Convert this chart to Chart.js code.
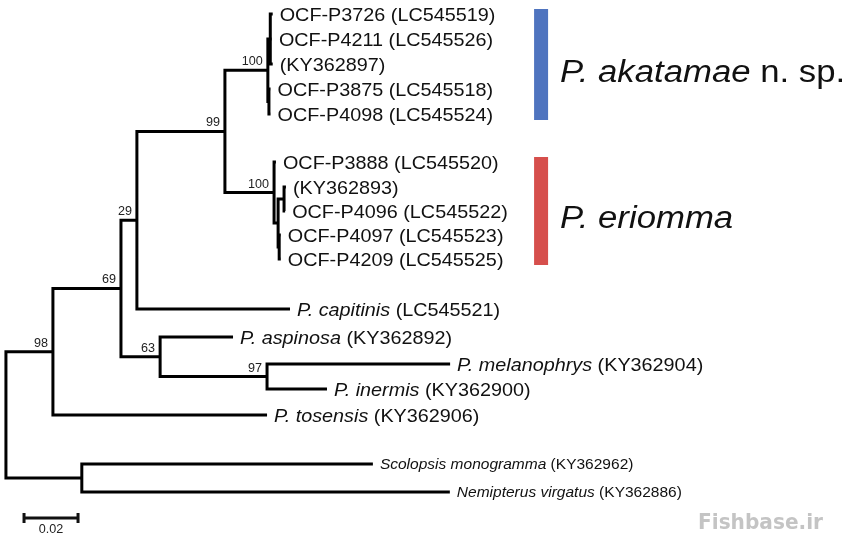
<!DOCTYPE html>
<html>
<head>
<meta charset="utf-8">
<title>Phylogenetic tree</title>
<script src="https://cdn.jsdelivr.net/npm/chart.js@4.4.1/dist/chart.umd.min.js"></script>
<style>
  html, body { margin: 0; padding: 0; background: #fff; }
  #wrap { width: 850px; height: 537px; position: relative; }
</style>
</head>
<body>
<div id="wrap"><canvas id="tree"></canvas></div>
<script>
// tips, top to bottom
const taxonName = ['OCF-P3726', 'OCF-P4211', '', 'OCF-P3875', 'OCF-P4098',
  'OCF-P3888', '', 'OCF-P4096', 'OCF-P4097', 'OCF-P4209',
  'P. capitinis', 'P. aspinosa', 'P. melanophrys', 'P. inermis', 'P. tosensis',
  'Scolopsis monogramma', 'Nemipterus virgatus'];
const accession = ['LC545519', 'LC545526', 'KY362897', 'LC545518', 'LC545524',
  'LC545520', 'KY362893', 'LC545522', 'LC545523', 'LC545525',
  'LC545521', 'KY362892', 'KY362904', 'KY362900', 'KY362906',
  'KY362962', 'KY362886'];
const leafRow = [0.56, 1.56, 2.56, 3.56, 4.56, 6.48, 7.48, 8.44, 9.4, 10.36,
  12.36, 13.48, 14.56, 15.56, 16.6, 18.56, 19.68];
const leafParent = [6, 6, 6, 7, 7, 8, 10, 10, 11, 11, 3, 12, 13, 13, 1, 14, 14];
const leafLength = [0.0009, 0.0006, 0.0009, 0.0006, 0.0006, 0.0007, 0.0007, 0.0004, 0.0006, 0.0006,
  0.0567, 0.0270, 0.0678, 0.0222, 0.0793, 0.1078, 0.1363];

// internal nodes (0 = root), parent always listed before child
const nodeParent = [-1, 0, 1, 2, 3, 4, 5, 5, 4, 8, 9, 9, 2, 12, 0];
const nodeLength = [0, 0.0174, 0.0252, 0.0059, 0.0326, 0.0159, 0.0009, 0.0004, 0.0182, 0.0015,
  0.0022, 0.0004, 0.0145, 0.0396, 0.0281];
const support = [null, 98, 69, 29, 99, 100, null, null, 100, null, null, null, 63, 97, null];

// clades marked on the right
const cladeName = ['P. akatamae', 'P. eriomma'];
const cladeNote = ['n. sp.', ''];
const cladeFirst = [0, 5];
const cladeLast = [4, 9];

const scaleBarLength = 0.02;
const scaleBarLabel = '0.02';

const outgroupNode = 14;

// ---- tree layout in data units (distance, row) ----
const nodeX = [];
nodeParent.forEach((p, i) => { nodeX[i] = p < 0 ? 0 : nodeX[p] + nodeLength[i]; });
const leafX = leafParent.map((p, j) => nodeX[p] + leafLength[j]);

// children of every internal node, as {x, y}
const kids = nodeParent.map(() => []);
const nodeY = [];
for (let i = nodeParent.length - 1; i >= 0; i--) {
  const list = [];
  leafParent.forEach((p, j) => { if (p === i) list.push({ x: leafX[j], y: leafRow[j] }); });
  nodeParent.forEach((p, k) => { if (p === i) list.push({ x: nodeX[k], y: nodeY[k] }); });
  list.sort((a, b) => a.y - b.y);
  kids[i] = list;
  nodeY[i] = (list[0].y + list[list.length - 1].y) / 2;
}

const branchPoints = [];
kids.forEach((list, i) => {
  const first = list[0], last = list[list.length - 1];
  branchPoints.push({ x: first.x, y: first.y }, { x: nodeX[i], y: first.y },
    { x: nodeX[i], y: last.y }, { x: last.x, y: last.y }, { x: null, y: null });
  list.slice(1, -1).forEach(c => {
    branchPoints.push({ x: nodeX[i], y: c.y }, { x: c.x, y: c.y }, { x: null, y: null });
  });
});

// ---- text helpers ----
const FACE = '"Liberation Sans", Arial, Helvetica, sans-serif';

function drawParts(ctx, parts, x, y, stretch, align) {
  let w = 0;
  parts.forEach(p => { ctx.font = p[1]; w += ctx.measureText(p[0]).width; });
  ctx.save();
  ctx.translate(align === 'right' ? x - w * stretch : (align === 'center' ? x - w * stretch / 2 : x), y);
  ctx.scale(stretch, 1);
  let cx = 0;
  parts.forEach(p => {
    ctx.font = p[1];
    ctx.fillText(p[0], cx, 0);
    cx += ctx.measureText(p[0]).width;
  });
  ctx.restore();
}

const treeLabels = {
  id: 'treeLabels',
  afterDatasetsDraw(chart) {
    const ctx = chart.ctx;
    const xs = chart.scales.x, ys = chart.scales.y;
    ctx.save();
    ctx.textBaseline = 'alphabetic';
    ctx.fillStyle = '#111';

    // tip labels
    taxonName.forEach((name, j) => {
      const small = leafParent[j] === outgroupNode;
      const size = small ? 14.5 : 18.5;
      const px = xs.getPixelForValue(leafX[j]) + 7;
      const py = ys.getPixelForValue(leafRow[j]) + size * 0.36;
      const parts = [];
      if (name) {
        parts.push([name, (name.startsWith('OCF') ? '' : 'italic ') + size + 'px ' + FACE]);
        parts.push([' ', size + 'px ' + FACE]);
      }
      parts.push(['(' + accession[j] + ')', size + 'px ' + FACE]);
      drawParts(ctx, parts, px, py, 1.07, 'left');
    });

    // bootstrap values
    ctx.fillStyle = '#222';
    support.forEach((s, i) => {
      if (s === null) return;
      const px = xs.getPixelForValue(nodeX[i]) - 5;
      const py = ys.getPixelForValue(nodeY[i]) - 5;
      drawParts(ctx, [[String(s), '12px ' + FACE]], px, py, 1.05, 'right');
    });

    // clade bars and names
    const barColors = ['#4f74bf', '#d64f4c'];
    const barLeft = xs.getPixelForValue(0.1956);
    cladeName.forEach((name, c) => {
      const top = ys.getPixelForValue(leafRow[cladeFirst[c]]) - 5;
      const bottom = ys.getPixelForValue(leafRow[cladeLast[c]]) + 6;
      ctx.fillStyle = barColors[c];
      ctx.fillRect(barLeft, top, 14, bottom - top);
      ctx.fillStyle = '#111';
      const parts = [[name, 'italic 31px ' + FACE]];
      if (cladeNote[c]) parts.push([' ' + cladeNote[c], '31px ' + FACE]);
      drawParts(ctx, parts, barLeft + 26, (top + bottom) / 2 + 17, 1.12, 'left');
    });

    // scale bar
    const sx0 = xs.getPixelForValue(0.0067);
    const sx1 = xs.getPixelForValue(0.0067 + scaleBarLength);
    const sy = ys.getPixelForValue(20.72);
    ctx.strokeStyle = '#111';
    ctx.lineWidth = 3;
    ctx.beginPath();
    ctx.moveTo(sx0, sy); ctx.lineTo(sx1, sy);
    ctx.moveTo(sx0, sy - 5); ctx.lineTo(sx0, sy + 5);
    ctx.moveTo(sx1, sy - 5); ctx.lineTo(sx1, sy + 5);
    ctx.stroke();
    ctx.fillStyle = '#222';
    drawParts(ctx, [[scaleBarLabel, '12px ' + FACE]], (sx0 + sx1) / 2, sy + 15, 1.05, 'center');

    // watermark
    ctx.fillStyle = '#c4c4c4';
    ctx.font = 'bold 22px "Liberation Sans Narrow", "DejaVu Sans Condensed", ' + FACE;
    const wm = 'Fishbase.ir';
    const ww = ctx.measureText(wm).width;
    ctx.save();
    ctx.translate(698, 529);
    ctx.scale(125 / ww, 1);
    ctx.fillText(wm, 0, 0);
    ctx.restore();

    ctx.restore();
  }
};

new Chart(document.getElementById('tree'), {
  type: 'scatter',
  data: {
    datasets: [{
      data: branchPoints,
      showLine: true,
      spanGaps: false,
      borderColor: '#000',
      borderWidth: 3,
      borderJoinStyle: 'miter',
      borderCapStyle: 'butt',
      pointRadius: 0,
      pointHoverRadius: 0,
      fill: false
    }]
  },
  options: {
    responsive: true,
    maintainAspectRatio: false,
    animation: false,
    events: [],
    layout: { padding: 0 },
    plugins: { legend: { display: false }, tooltip: { enabled: false } },
    scales: {
      x: { type: 'linear', display: false, min: -0.0022, max: 0.3126 },
      y: { type: 'linear', display: false, min: 0, max: 21.48, reverse: true }
    }
  },
  plugins: [treeLabels]
});
</script>
</body>
</html>
